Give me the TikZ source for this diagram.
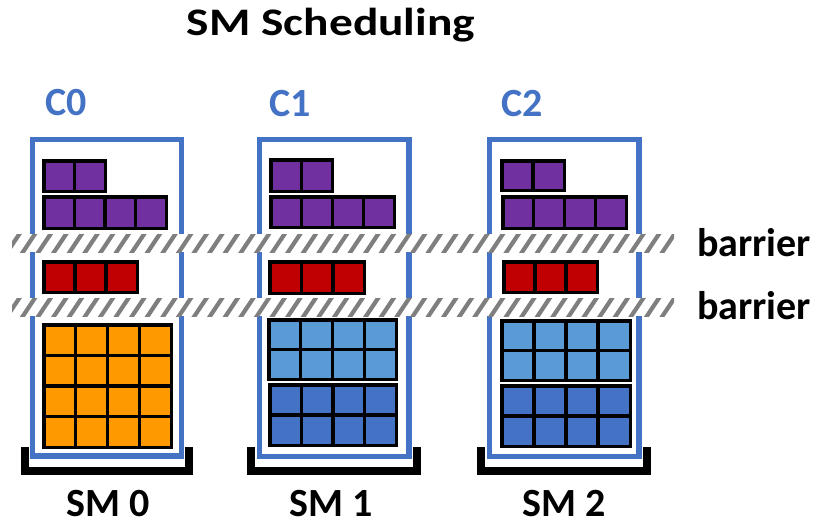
\documentclass[tikz,border=0pt]{standalone}
\usepackage{fontspec}
\setmainfont{Carlito}
\definecolor{frameblue}{HTML}{4472C4}
\definecolor{warpviolet}{HTML}{7030A0}
\definecolor{warpred}{HTML}{C00000}
\definecolor{warporange}{HTML}{FF9900}
\definecolor{warplight}{HTML}{5B9BD5}
\definecolor{warpdark}{HTML}{4472C4}
\definecolor{hatchgray}{HTML}{7F7F7F}

% a block of cols x rows cells between two corner points (line centres)
\newcommand\cellblock[7]{%
  \pgfmathsetmacro\cbdx{(#3-#1)/#5}%
  \pgfmathsetmacro\cbdy{(#4-#2)/#6}%
  \foreach \i in {1,...,#5}{%
    \foreach \j in {1,...,#6}{%
      \pgfmathsetmacro\cbxa{#1+(\i-1)*\cbdx}%
      \pgfmathsetmacro\cbya{#2+(\j-1)*\cbdy}%
      \draw[cellline, fill=#7] (\cbxa,\cbya) rectangle ++(\cbdx,\cbdy);
    }%
  }%
}

% a white band with diagonal gray hatching
\newcommand\barrierband[3]{%
  \fill[white] (#1,#3-9) rectangle (#2,#3+9);
  \begin{scope}
    \clip (#1,#3-9) rectangle (#2,#3+9);
    \foreach \k in {0,...,44}{%
      \pgfmathsetmacro\hx{#1-6+\k*15.6}%
      \draw[hatchgray, line width=4.2pt] (\hx,#3+11) -- ++(14.7,-22);
    }
  \end{scope}
}

\tikzset{
  cellline/.style={draw=black, line width=3.5pt, line join=miter},
  smframe/.style={draw=frameblue, line width=5.5pt},
  smbracket/.style={draw=black, line width=8pt, line join=miter},
  labeltext/.style={font=\bfseries\fontsize{40}{48}\selectfont, inner sep=0pt, text depth=0pt},
}

\begin{document}
\begin{tikzpicture}[x=1pt, y=-1pt]
\useasboundingbox (0,0) rectangle (821,524);

% SM frames
\draw[smframe] (32.5,139.5) rectangle (181.5,456);
\draw[smframe] (259.5,139.5) rectangle (409,456.5);
\draw[smframe] (489.5,139.5) rectangle (639,456.5);

% brackets under each SM
\draw[smbracket] (24.5,447) -- (24.5,471) -- (189,471) -- (189,447);
\draw[smbracket] (251,447) -- (251,471) -- (416.5,471) -- (416.5,447);
\draw[smbracket] (481,447) -- (481,471) -- (647,471) -- (647,447);

% barriers
\barrierband{12}{674}{243}
\barrierband{12}{674}{307}

% SM 0 blocks
\cellblock{43.75}{160.75}{105.25}{191.25}{2}{1}{warpviolet}
\cellblock{43.75}{196.75}{166.25}{228.25}{4}{1}{warpviolet}
\cellblock{43.75}{261.75}{137.25}{292.25}{3}{1}{warpred}
\cellblock{43.75}{324.75}{171.25}{447.25}{4}{4}{warporange}

% SM 1 blocks
\cellblock{270.75}{159.75}{332.25}{191.25}{2}{1}{warpviolet}
\cellblock{270.75}{196.75}{394.25}{227.25}{4}{1}{warpviolet}
\cellblock{269.75}{261.75}{364.25}{293.25}{3}{1}{warpred}
\cellblock{268.75}{319.75}{396.25}{379.25}{4}{2}{warplight}
\cellblock{269.75}{384.75}{396.25}{445.25}{4}{2}{warpdark}

% SM 2 blocks
\cellblock{501.75}{160.75}{564.25}{190.25}{2}{1}{warpviolet}
\cellblock{502.75}{196.75}{626.25}{228.25}{4}{1}{warpviolet}
\cellblock{503.75}{261.75}{597.25}{292.25}{3}{1}{warpred}
\cellblock{501.75}{320.75}{630.25}{380.25}{4}{2}{warplight}
\cellblock{501.75}{385.75}{630.25}{446.25}{4}{2}{warpdark}

% labels
\node[labeltext, anchor=base, font=\bfseries\fontsize{39}{46}\selectfont] (title) at (331,36) {\scalebox{1.215}[1]{SM Scheduling}};
\node[labeltext, anchor=base west, text=frameblue] (c0) at (45,116) {C0};
\node[labeltext, anchor=base west, text=frameblue] (c1) at (269,117) {C1};
\node[labeltext, anchor=base west, text=frameblue] (c2) at (501,117) {C2};
\node[labeltext, anchor=base west] (bar1) at (697,256) {barrier};
\node[labeltext, anchor=base west] (bar2) at (697,319) {barrier};
\node[labeltext, anchor=base] (sm0) at (108.5,516.5) {SM 0};
\node[labeltext, anchor=base] (sm1) at (331.5,516.5) {SM 1};
\node[labeltext, anchor=base] (sm2) at (564,516.5) {SM 2};
\end{tikzpicture}
\end{document}
